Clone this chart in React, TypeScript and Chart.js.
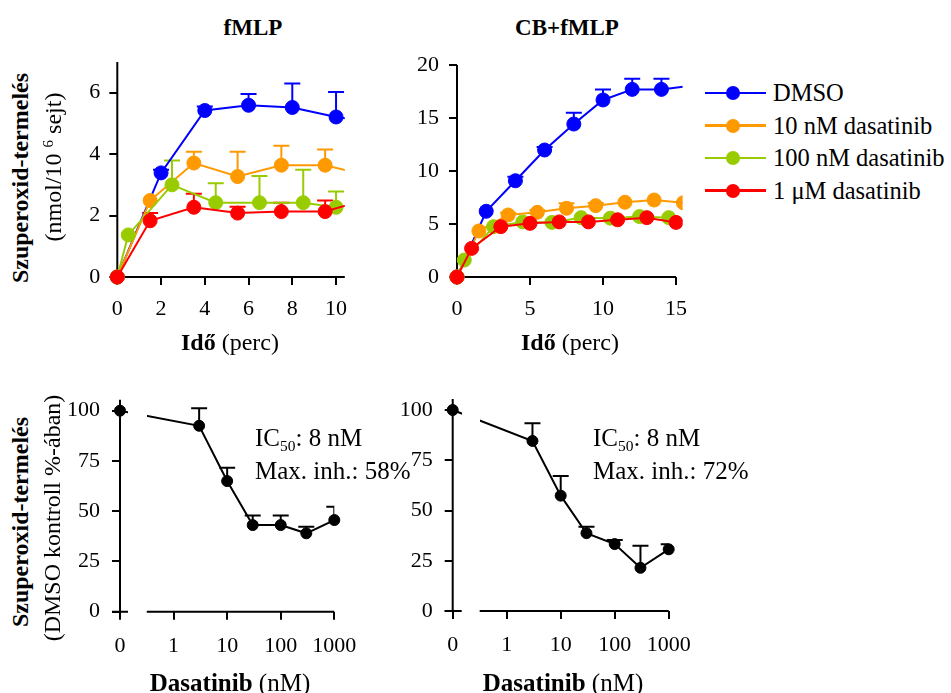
import React, { useEffect, useRef } from "react";
import { Chart, registerables } from "chart.js";
Chart.register(...registerables);

const FONT = "'Liberation Serif', 'Times New Roman', serif";

// ---------- colours / legend ----------
const seriesColors = ["#0000ff", "#ff9900", "#99cc00", "#ff0000"];
const legendLabels = ["DMSO", "10 nM dasatinib", "100 nM dasatinib", "1 μM dasatinib"];
const panelTitles = ["fMLP", "CB+fMLP"];

// ---------- panel A: fMLP (time course) ----------
const aDmsoX = [0, 2, 4, 6, 8, 10, 12];
const aDmsoY = [0, 3.39, 5.42, 5.59, 5.52, 5.21, 5.0];
const aDmsoErr = [0, 0.1, 0.13, 0.37, 0.78, 0.81, 0];
const a10X = [0, 1.5, 3.5, 5.5, 7.5, 9.5, 11.5];
const a10Y = [0, 2.49, 3.71, 3.27, 3.64, 3.64, 3.3];
const a10Err = [0, 0, 0.37, 0.81, 0.63, 0.51, 0];
const a100X = [0, 0.5, 2.5, 4.5, 6.5, 8.5, 10];
const a100Y = [0, 1.37, 3.0, 2.42, 2.42, 2.42, 2.27];
const a100Err = [0, 0, 0.79, 0.63, 0.87, 1.07, 0.51];
const a1uX = [0, 1.5, 3.5, 5.5, 7.5, 9.5, 11.5];
const a1uY = [0, 1.83, 2.27, 2.08, 2.13, 2.13, 2.55];
const a1uErr = [0, 0.25, 0.44, 0.21, 0.29, 0.36, 0];
const aXTicks = [0, 2, 4, 6, 8, 10];
const aYTicks = [0, 2, 4, 6];

// ---------- panel B: CB+fMLP (time course) ----------
const bDmsoX = [0, 2, 4, 6, 8, 10, 12, 14, 16];
const bDmsoY = [0, 6.2, 9.08, 11.98, 14.43, 16.7, 17.7, 17.7, 18.05];
const bDmsoErr = [0, 0, 0.38, 0.28, 1.07, 1.0, 1.0, 1.0, 0];
const b10X = [0, 1.5, 3.5, 5.5, 7.5, 9.5, 11.5, 13.5, 15.5];
const b10Y = [0, 4.34, 5.85, 6.1, 6.48, 6.73, 7.05, 7.26, 7.0];
const b10Err = [0, 0, 0.2, 0.2, 0.47, 0.25, 0, 0, 0];
const b100X = [0, 0.5, 2.5, 4.5, 6.5, 8.5, 10.5, 12.5, 14.5];
const b100Y = [0, 1.6, 4.75, 5.2, 5.15, 5.6, 5.55, 5.7, 5.6];
const b1uX = [0, 1, 3, 5, 7, 9, 11, 13, 15];
const b1uY = [0, 2.7, 4.75, 5.06, 5.2, 5.2, 5.4, 5.6, 5.15];
const bXTicks = [0, 5, 10, 15];
const bYTicks = [0, 5, 10, 15, 20];

// ---------- panels C/D: dose response ----------
const CONTROL_POS = 0.1; // "0" plotted at this position of the log axis
const BREAK_AT = 0.316; // axis break
const doseNM = [0, 3, 10, 30, 100, 300, 1000];
const cValues = [100, 92.5, 65, 43.1, 43.1, 39, 45.6];
const cErr = [0, 8.7, 6.6, 4.7, 4.7, 3.3, 6.6];
const dValues = [100, 84.6, 57.4, 38.7, 33.3, 21.5, 30.7];
const dErr = [0, 8.8, 9.8, 3.2, 2.0, 11.0, 2.5];
const doseTicks = [0.1, 1, 10, 100, 1000];
const pctTicks = [0, 25, 50, 75, 100];
const cNotes = ["8 nM", "58%"];
const dNotes = ["8 nM", "72%"];

type Rect = { left: number; top: number; width: number; height: number };
type Area = { left: number; top: number; right: number; bottom: number };

function makeErrorBars(cap: number) {
  return {
    id: "errorBars",
    beforeDatasetsDraw(chart: any) {
      const ctx = chart.ctx;
      const ys = chart.scales.y;
      const area = chart.chartArea;
      ctx.save();
      ctx.beginPath();
      ctx.rect(area.left - 20, area.top - 20, area.right - area.left + 20, area.bottom - area.top + 40);
      ctx.clip();
      chart.data.datasets.forEach((ds: any, i: number) => {
        if (!ds.errors) return;
        const meta = chart.getDatasetMeta(i);
        ctx.strokeStyle = ds.borderColor;
        ctx.lineWidth = 2;
        meta.data.forEach((pt: any, j: number) => {
          const e = ds.errors[j];
          if (!e) return;
          const v = ds.data[j].y;
          const top = ys.getPixelForValue(v + e);
          ctx.beginPath();
          ctx.moveTo(pt.x, pt.y);
          ctx.lineTo(pt.x, top);
          ctx.moveTo(pt.x - cap, top);
          ctx.lineTo(pt.x + cap, top);
          ctx.stroke();
        });
      });
      ctx.restore();
    },
  };
}

function makeAxes(o: { xFrom: number; xTo: number; yExtraTop: number; stub?: [number, number] }) {
  return {
    id: "axesLines",
    beforeDatasetsDraw(chart: any) {
      const ctx = chart.ctx;
      const xs = chart.scales.x;
      const a = chart.chartArea;
      ctx.save();
      ctx.strokeStyle = "#000";
      ctx.lineWidth = 2;
      ctx.lineCap = "butt";
      ctx.beginPath();
      // y axis
      ctx.moveTo(a.left, a.bottom + 1);
      ctx.lineTo(a.left, a.top - o.yExtraTop);
      // x axis
      if (o.stub) {
        const x0 = xs.getPixelForValue(CONTROL_POS);
        ctx.moveTo(x0 - o.stub[0], a.bottom);
        ctx.lineTo(x0 + o.stub[1], a.bottom);
      }
      ctx.moveTo(o.stub ? xs.getPixelForValue(o.xFrom) : a.left - 1, a.bottom);
      ctx.lineTo(xs.getPixelForValue(o.xTo), a.bottom);
      ctx.stroke();
      ctx.restore();
    },
    afterDatasetsDraw(chart: any) {
      if (!o.stub) return;
      const xs = chart.scales.x;
      const a = chart.chartArea;
      const x1 = xs.getPixelForValue(CONTROL_POS) + o.stub[1];
      const x2 = xs.getPixelForValue(BREAK_AT);
      chart.ctx.clearRect(x1, a.top - 15, x2 - x1, a.bottom - a.top + 13);
    },
  };
}

function scaleFix(canvas: Rect, area: Area) {
  return {
    yW: area.left - canvas.left,
    xH: canvas.top + canvas.height - area.bottom,
    padding: { top: area.top - canvas.top, right: canvas.left + canvas.width - area.right, left: 0, bottom: 0 },
  };
}

function tickFont(size: number) {
  return { family: FONT, size };
}

function pts(xs: number[], ys: number[]) {
  return xs.map((x, i) => ({ x, y: ys[i] }));
}

function timeConfig(p: {
  canvas: Rect;
  area: Area;
  xMax: number;
  xAxisEnd: number;
  xTicks: number[];
  yMax: number;
  yTicks: number[];
  series: { x: number[]; y: number[]; err?: number[] }[];
  yPad: number;
}) {
  const f = scaleFix(p.canvas, p.area);
  return {
    type: "line",
    data: {
      datasets: p.series.map((s, i) => ({
        label: legendLabels[i],
        data: pts(s.x, s.y),
        errors: s.err,
        borderColor: seriesColors[i],
        backgroundColor: seriesColors[i],
        pointBackgroundColor: seriesColors[i],
        pointBorderColor: seriesColors[i],
        pointRadius: 7,
        pointBorderWidth: 1,
        borderWidth: 2,
        tension: 0,
        order: 4 - i,
        clip: { left: 12, top: 12, right: 0, bottom: 12 },
      })),
    },
    options: {
      responsive: false,
      animation: false,
      devicePixelRatio: 1,
      events: [],
      layout: { padding: f.padding },
      plugins: { legend: { display: false }, tooltip: { enabled: false } },
      scales: {
        x: {
          type: "linear",
          min: 0,
          max: p.xMax,
          afterBuildTicks: (s: any) => {
            s.ticks = p.xTicks.map((v) => ({ value: v }));
          },
          afterFit: (s: any) => {
            s.height = f.xH;
            s.paddingLeft = 0;
            s.paddingRight = 0;
          },
          grid: { display: true, drawOnChartArea: false, drawTicks: true, tickLength: 8, color: "#000", lineWidth: 2 },
          border: { display: false },
          ticks: { font: tickFont(22), color: "#000", padding: 11, autoSkip: false, maxRotation: 0 },
        },
        y: {
          type: "linear",
          min: 0,
          max: p.yMax,
          afterBuildTicks: (s: any) => {
            s.ticks = p.yTicks.map((v) => ({ value: v }));
          },
          afterFit: (s: any) => {
            s.width = f.yW;
            s.paddingTop = 0;
            s.paddingBottom = 0;
          },
          grid: { display: true, drawOnChartArea: false, drawTicks: true, tickLength: 8, color: "#000", lineWidth: 2 },
          border: { display: false },
          ticks: { font: tickFont(22), color: "#000", padding: p.yPad, autoSkip: false },
        },
      },
    },
    plugins: [makeAxes({ xFrom: 0, xTo: p.xAxisEnd, yExtraTop: 0 }), makeErrorBars(8)],
  };
}

function doseConfig(p: { canvas: Rect; area: Area; values: number[]; err: number[]; stub: [number, number] }) {
  const f = scaleFix(p.canvas, p.area);
  const xs = doseNM.map((d) => (d === 0 ? CONTROL_POS : d));
  return {
    type: "line",
    data: {
      datasets: [
        {
          data: pts(xs, p.values),
          errors: p.err,
          borderColor: "#000",
          backgroundColor: "#000",
          pointBackgroundColor: "#000",
          pointBorderColor: "#000",
          pointRadius: 5.5,
          pointBorderWidth: 1,
          borderWidth: 2,
          tension: 0,
          clip: 12,
        },
      ],
    },
    options: {
      responsive: false,
      animation: false,
      devicePixelRatio: 1,
      events: [],
      layout: { padding: f.padding },
      plugins: { legend: { display: false }, tooltip: { enabled: false } },
      scales: {
        x: {
          type: "logarithmic",
          min: CONTROL_POS,
          max: 1000,
          afterBuildTicks: (s: any) => {
            s.ticks = doseTicks.map((v) => ({ value: v }));
          },
          afterFit: (s: any) => {
            s.height = f.xH;
            s.paddingLeft = 0;
            s.paddingRight = 0;
          },
          grid: { display: true, drawOnChartArea: false, drawTicks: true, tickLength: 8, color: "#000", lineWidth: 2 },
          border: { display: false },
          ticks: {
            font: tickFont(22),
            color: "#000",
            padding: 13,
            autoSkip: false,
            maxRotation: 0,
            callback: (v: any) => (v === CONTROL_POS ? "0" : String(v)),
          },
        },
        y: {
          type: "linear",
          min: 0,
          max: 100,
          afterBuildTicks: (s: any) => {
            s.ticks = pctTicks.map((v) => ({ value: v }));
          },
          afterFit: (s: any) => {
            s.width = f.yW;
            s.paddingTop = 0;
            s.paddingBottom = 0;
          },
          grid: { display: true, drawOnChartArea: false, drawTicks: true, tickLength: 8, color: "#000", lineWidth: 2 },
          border: { display: false },
          ticks: { font: tickFont(22), color: "#000", padding: 12, autoSkip: false },
        },
      },
    },
    plugins: [makeAxes({ xFrom: BREAK_AT, xTo: 1000, yExtraTop: 11, stub: p.stub }), makeErrorBars(8)],
  };
}

function ChartBox({ rect, build }: { rect: Rect; build: () => any }) {
  const ref = useRef<HTMLCanvasElement>(null);
  useEffect(() => {
    const chart = new Chart(ref.current as HTMLCanvasElement, build());
    return () => chart.destroy();
  }, []);
  return (
    <canvas
      ref={ref}
      width={rect.width}
      height={rect.height}
      style={{ position: "absolute", left: rect.left, top: rect.top, width: rect.width, height: rect.height }}
    />
  );
}

function Txt(props: {
  x: number;
  y: number;
  children: any;
  size?: number;
  bold?: boolean;
  rotate?: boolean;
  left?: boolean;
}) {
  const { x, y, children, size = 24, bold = false, rotate = false, left = false } = props;
  return (
    <div
      style={{
        position: "absolute",
        left: x,
        top: y,
        transform: `translate(${left ? "0" : "-50%"}, -50%)${rotate ? " rotate(-90deg)" : ""}`,
        whiteSpace: "nowrap",
        fontFamily: FONT,
        fontSize: size,
        fontWeight: bold ? "bold" : "normal",
        lineHeight: 1,
        color: "#000",
      }}
    >
      {children}
    </div>
  );
}

const rectA: Rect = { left: 55, top: 40, width: 310, height: 300 };
const areaA: Area = { left: 117.3, top: 62, right: 344.8, bottom: 277 };
const rectB: Rect = { left: 390, top: 40, width: 310, height: 300 };
const areaB: Area = { left: 457, top: 65, right: 682.6, bottom: 277 };
const rectC: Rect = { left: 50, top: 380, width: 320, height: 300 };
const areaC: Area = { left: 120, top: 410.7, right: 334.3, bottom: 611.7 };
const rectD: Rect = { left: 385, top: 380, width: 320, height: 300 };
const areaD: Area = { left: 452.7, top: 410, right: 668.7, bottom: 611 };

export default function App() {
  const sub = { fontSize: "0.62em", position: "relative" as const, top: "0.35em" };
  const sup = { fontSize: "0.62em", position: "relative" as const, top: "-0.55em" };
  return (
    <div style={{ position: "absolute", left: 0, top: 0, width: 951, height: 693, background: "#fff", overflow: "hidden" }}>
      <ChartBox
        rect={rectA}
        build={() =>
          timeConfig({
            canvas: rectA,
            area: areaA,
            xMax: 10.4,
            xAxisEnd: 10.4,
            xTicks: aXTicks,
            yMax: 7,
            yTicks: aYTicks,
            yPad: 9,
            series: [
              { x: aDmsoX, y: aDmsoY, err: aDmsoErr },
              { x: a10X, y: a10Y, err: a10Err },
              { x: a100X, y: a100Y, err: a100Err },
              { x: a1uX, y: a1uY, err: a1uErr },
            ],
          })
        }
      />
      <ChartBox
        rect={rectB}
        build={() =>
          timeConfig({
            canvas: rectB,
            area: areaB,
            xMax: 15.45,
            xAxisEnd: 15,
            xTicks: bXTicks,
            yMax: 20,
            yTicks: bYTicks,
            yPad: 10,
            series: [
              { x: bDmsoX, y: bDmsoY, err: bDmsoErr },
              { x: b10X, y: b10Y, err: b10Err },
              { x: b100X, y: b100Y },
              { x: b1uX, y: b1uY },
            ],
          })
        }
      />
      <ChartBox rect={rectC} build={() => doseConfig({ canvas: rectC, area: areaC, values: cValues, err: cErr, stub: [8, 8] })} />
      <ChartBox rect={rectD} build={() => doseConfig({ canvas: rectD, area: areaD, values: dValues, err: dErr, stub: [8, 9] })} />

      {/* titles */}
      <Txt x={253} y={27} bold size={23}>{panelTitles[0]}</Txt>
      <Txt x={567} y={27} bold size={23}>{panelTitles[1]}</Txt>

      {/* top y label */}
      <Txt x={20} y={178} bold rotate>Szuperoxid-termelés</Txt>
      <Txt x={53} y={167} rotate>
        (nmol/10 <span style={sup}>6</span> sejt)
      </Txt>

      {/* top x labels */}
      <Txt x={230} y={342}>
        <b>Idő</b> (perc)
      </Txt>
      <Txt x={570} y={342}>
        <b>Idő</b> (perc)
      </Txt>

      {/* bottom y label */}
      <Txt x={20} y={522} bold rotate>Szuperoxid-termelés</Txt>
      <Txt x={52} y={518} rotate>(DMSO kontroll %-ában)</Txt>

      {/* bottom x labels */}
      <Txt x={230} y={682} size={25}>
        <b>Dasatinib</b> (nM)
      </Txt>
      <Txt x={563} y={682} size={25}>
        <b>Dasatinib</b> (nM)
      </Txt>

      {/* annotations */}
      <Txt x={255} y={437} left size={25}>
        IC<span style={sub}>50</span>: {cNotes[0]}
      </Txt>
      <Txt x={255} y={470} left size={25}>Max. inh.: {cNotes[1]}</Txt>
      <Txt x={593} y={437} left size={25}>
        IC<span style={sub}>50</span>: {dNotes[0]}
      </Txt>
      <Txt x={593} y={470} left size={25}>Max. inh.: {dNotes[1]}</Txt>

      {/* legend */}
      {legendLabels.map((lab, i) => {
        const cy = 93 + i * 32.5;
        return (
          <React.Fragment key={lab}>
            <div style={{ position: "absolute", left: 705, top: cy - 1.25, width: 61, height: 2.5, background: seriesColors[i] }} />
            <div
              style={{
                position: "absolute",
                left: 733 - 7,
                top: cy - 7,
                width: 14,
                height: 14,
                borderRadius: "50%",
                background: seriesColors[i],
              }}
            />
            <Txt x={773} y={cy} left size={24.5}>
              {lab}
            </Txt>
          </React.Fragment>
        );
      })}
    </div>
  );
}
